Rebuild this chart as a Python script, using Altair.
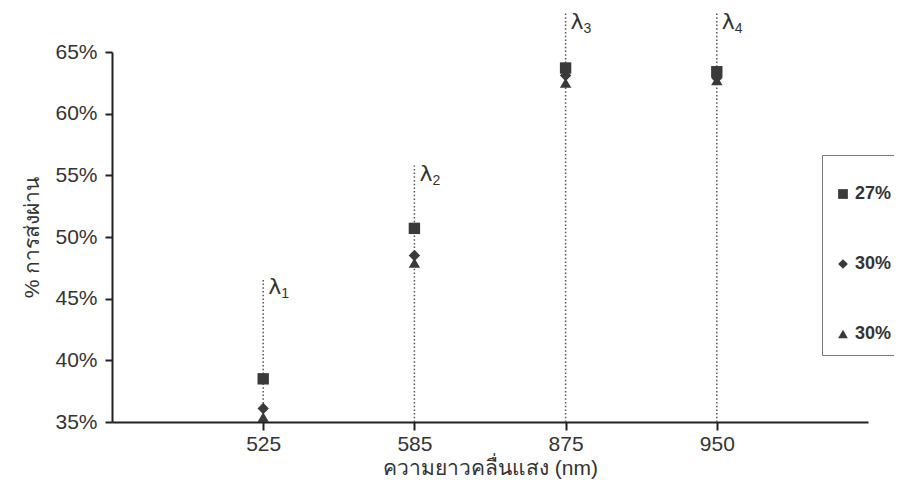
import altair as alt
import pandas as pd

# ---- data ----
wavelengths = ["525", "585", "875", "950"]
series_ids = ["s1", "s2", "s3"]
series_labels = ["27%", "30%", "30%"]
series_shapes = ["square", "diamond", "triangle-up"]
vals_s1 = [0.385, 0.507, 0.637, 0.634]
vals_s2 = [0.361, 0.485, 0.631, 0.629]
vals_s3 = [0.354, 0.479, 0.625, 0.627]
rule_top = [0.467, 0.558, 0.682, 0.682]
lambda_sym = ["λ", "λ", "λ", "λ"]
lambda_sub = ["1", "2", "3", "4"]
y_base = 0.35

all_vals = [vals_s1, vals_s2, vals_s3]
rows = []
for sid, vals in zip(series_ids, all_vals):
    for w, v in zip(wavelengths, vals):
        rows.append({"wl": w, "series": sid, "value": v})
pts = pd.DataFrame(rows)

rules = pd.DataFrame({"wl": wavelengths, "base": [y_base] * len(wavelengths),
                      "top": rule_top, "sym": lambda_sym, "sub": lambda_sub})

label_expr = ""
for sid, lab in zip(series_ids, series_labels):
    label_expr += f"datum.label == '{sid}' ? '{lab}' : "
label_expr += "''"

TXT = "#333333"
INK = "#3a3a3a"

xscale = alt.Scale(domain=wavelengths, type="point", padding=1)
yscale = alt.Scale(domain=[0.35, 0.65], nice=False, zero=False)

x_enc = alt.X("wl:N", scale=xscale, sort=wavelengths,
              axis=alt.Axis(title="ความยาวคลื่นแสง (nm)", labelAngle=0))

rule_layer = alt.Chart(rules).mark_rule(
    strokeDash=[1.5, 2.2], strokeWidth=1.5, color="#555555"
).encode(
    x=x_enc,
    y=alt.Y("base:Q", scale=yscale),
    y2="top:Q",
)

sym_layer = alt.Chart(rules).mark_text(
    align="left", baseline="top", dx=5, dy=-1, fontSize=22,
    font="DejaVu Sans", color=TXT
).encode(
    x=x_enc,
    y=alt.Y("top:Q", scale=yscale),
    text="sym:N",
)

sub_layer = alt.Chart(rules).mark_text(
    align="left", baseline="top", dx=18, dy=9, fontSize=14,
    font="Liberation Sans", color=TXT
).encode(
    x=x_enc,
    y=alt.Y("top:Q", scale=yscale),
    text="sub:N",
)

point_layer = alt.Chart(pts).mark_point(
    filled=True, opacity=1, color=INK, size=130
).encode(
    x=x_enc,
    y=alt.Y("value:Q", scale=yscale,
            axis=alt.Axis(title="% การส่งผ่าน", format=".0%",
                          values=[0.35, 0.40, 0.45, 0.50, 0.55, 0.60, 0.65])),
    shape=alt.Shape(
        "series:N",
        scale=alt.Scale(domain=series_ids, range=series_shapes),
        legend=alt.Legend(
            title=" ", titleFontSize=16, titlePadding=2,
            orient="none", legendX=710, legendY=103,
            strokeColor="#777777", padding=12,
            rowPadding=52, labelExpr=label_expr,
            labelFontSize=18, labelFontWeight="bold", labelColor=TXT,
            labelFont="Liberation Sans", symbolSize=95,
            symbolFillColor=INK, symbolStrokeColor=INK, labelOffset=3,
        ),
    ),
)

chart = alt.layer(rule_layer, point_layer, sym_layer, sub_layer).properties(
    width=756, height=370,
    autosize=alt.AutoSizeParams(type="none"),
    padding={"left": 104, "top": 44, "right": 26, "bottom": 59},
    background="white",
).configure_view(
    stroke=None
).configure_axis(
    grid=False,
    domainColor="#222222", domainWidth=2,
    tickColor="#222222", tickWidth=2,
    labelFont="Liberation Sans", labelFontSize=21, labelColor=TXT,
    titleFont="Liberation Sans", titleFontSize=21, titleColor=TXT,
    titleFontWeight="normal",
).configure_axisX(
    tickSize=8, labelPadding=3, titlePadding=3,
).configure_axisY(
    tickSize=7, labelPadding=8, titlePadding=12,
)

chart.save("out.html", embed_options={"renderer": "svg", "actions": False})
